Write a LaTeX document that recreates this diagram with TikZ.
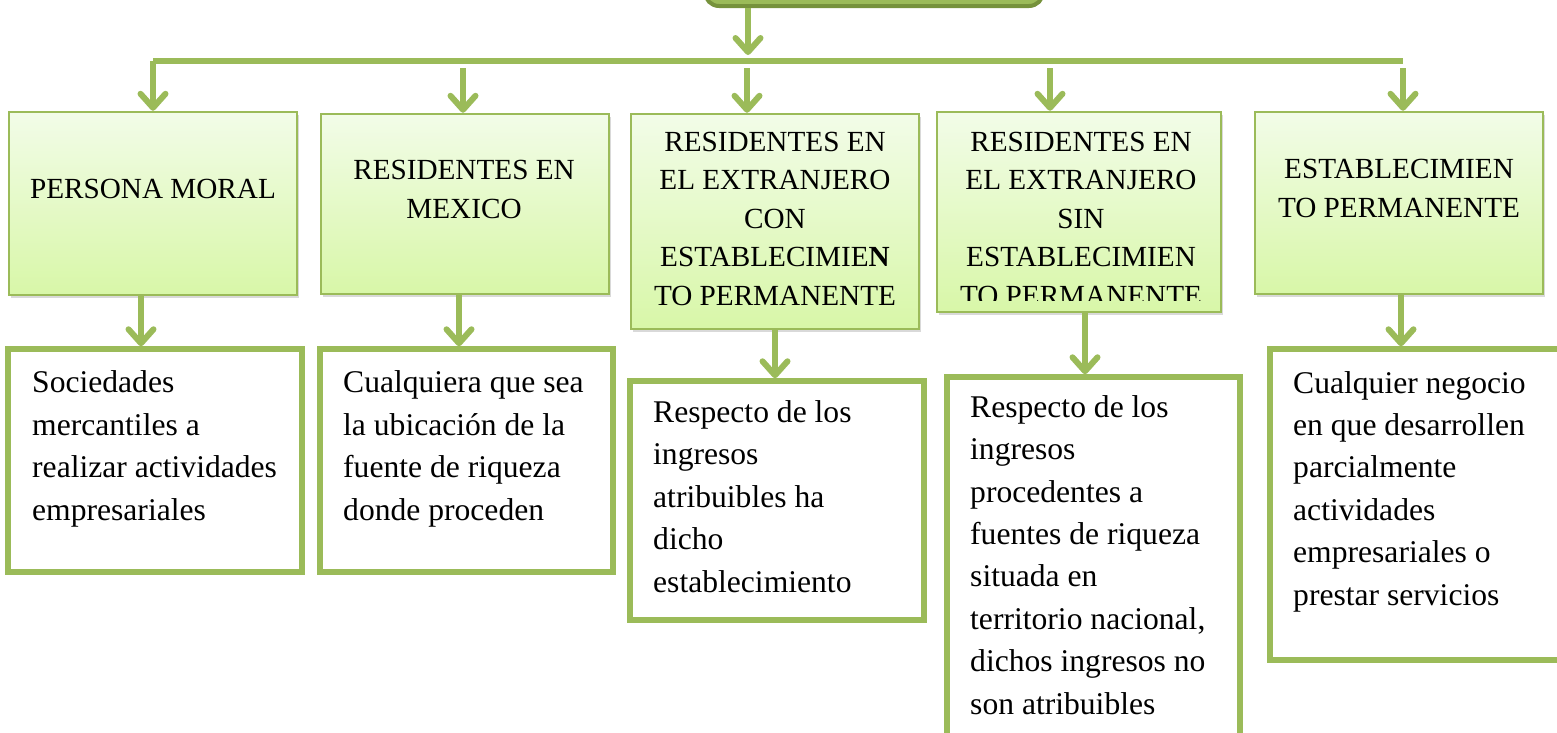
\documentclass[tikz,border=0pt]{standalone}
\usepackage{fontspec}
\setmainfont{Liberation Serif}
\usetikzlibrary{arrows.meta,shadows}

\definecolor{leafgreen}{HTML}{9BBB59}
\definecolor{darkleaf}{HTML}{76923C}
\definecolor{paletop}{HTML}{F2FCE8}
\definecolor{palebot}{HTML}{D8F7A8}

\begin{document}
\begin{tikzpicture}[x=1pt,y=-1pt,
  link/.style={draw=leafgreen,line width=6pt},
  arr/.style={link,-{Straight Barb[length=14pt,width=25pt,round]}},
  headbox/.style={draw=leafgreen,line width=2.5pt,top color=paletop,bottom color=palebot,
    drop shadow={opacity=.3,shadow xshift=2pt,shadow yshift=-3pt}},
  headtext/.style={font=\fontsize{29.2}{38.5}\selectfont,align=center,inner sep=0pt,anchor=base},
  bodybox/.style={draw=leafgreen,line width=5.5pt,fill=white,
    drop shadow={opacity=.2,shadow xshift=2pt,shadow yshift=-2pt}},
  bodytext/.style={font=\fontsize{31.6}{42.4}\selectfont,align=left,inner sep=0pt,anchor=base west}]
\useasboundingbox (0,0) rectangle (1557,732);
\clip (0,0) rectangle (1557,732);

% caja superior (solo se ve el borde inferior)
\node[draw=darkleaf,fill=leafgreen,line width=4pt,rounded corners=14pt,
  minimum width=338pt,minimum height=80pt] (tipo) at (874,-34) {};

% barra de reparto
\coordinate (hub) at (748,61);
\coordinate (barL) at (153,61);
\coordinate (barR) at (1403,61);
\draw[arr] (tipo.south -| hub) -- ([yshift=6pt]hub);
\draw[link] (barL) -- (barR);

% primer nivel (anchor base = ultima linea)
\node[headbox,minimum width=288pt,minimum height=183pt] (t1) at (153,203.5) {};
\node[headbox,minimum width=288pt,minimum height=180pt] (t2) at (465,204) {};
\node[headbox,minimum width=288pt,minimum height=215pt] (t3) at (775,221.5) {};
\node[headbox,minimum width=284pt,minimum height=200pt] (t4) at (1079,212) {};
\node[headbox,minimum width=288pt,minimum height=182pt] (t5) at (1399,203) {};

\node[headtext] (l1) at (153,198) {PERSONA MORAL};
\node[headtext] (l2) at (464,218) {RESIDENTES EN\\MEXICO};
\node[headtext] (l3) at (775,305) {RESIDENTES EN\\EL EXTRANJERO\\CON\\ESTABLECIMIE\textbf{N}\\TO PERMANENTE};
\begin{scope}
\clip (937,100) rectangle (1221,300);
\node[headtext] (l4) at (1081,305) {RESIDENTES EN\\EL EXTRANJERO\\SIN\\ESTABLECIMIEN\\TO PERMANENTE};
\end{scope}
\node[headtext] (l5) at (1399,217) {ESTABLECIMIEN\\TO PERMANENTE};

\draw[arr] (barL) -- (barL |- t1.north);
\foreach \n/\x in {2/463,3/747,4/1050,5/1403}{
  \coordinate (s\n) at (\x,68);
  \draw[arr] (s\n) -- (s\n |- t\n.north);
}

% segundo nivel
\node[bodybox,minimum width=294pt,minimum height=223pt] (b1) at (155,460.5) {};
\node[bodybox,minimum width=293pt,minimum height=223pt] (b2) at (466.5,460.5) {};
\node[bodybox,minimum width=294pt,minimum height=239pt] (b3) at (777,500.5) {};
\node[bodybox,minimum width=293pt,minimum height=383pt] (b4) at (1093.5,568.5) {};
\node[bodybox,minimum width=320pt,minimum height=311pt] (b5) at (1430,504.5) {};

\node[bodytext] (d1) at (32,520) {Sociedades\\mercantiles a\\realizar actividades\\empresariales};
\node[bodytext] (d2) at (343,520) {Cualquiera que sea\\la ubicación de la\\fuente de riqueza\\donde proceden};
\node[bodytext] (d3) at (653,592) {Respecto de los\\ingresos\\atribuibles ha\\dicho\\establecimiento};
\node[bodytext] (d4) at (970,714) {Respecto de los\\ingresos\\procedentes a\\fuentes de riqueza\\situada en\\territorio nacional,\\dichos ingresos no\\son atribuibles};
\node[bodytext] (d5) at (1293,605) {Cualquier negocio\\en que desarrollen\\parcialmente\\actividades\\empresariales o\\prestar servicios};

\draw[arr] ([xshift=-12pt]t1.south) -- ([xshift=-12pt]t1.south |- b1.north);
\draw[arr] ([xshift=-6pt]t2.south) -- ([xshift=-6pt]t2.south |- b2.north);
\draw[arr] (t3.south) -- (t3.south |- b3.north);
\draw[arr] ([xshift=6pt]t4.south) -- ([xshift=6pt]t4.south |- b4.north);
\draw[arr] ([xshift=2pt]t5.south) -- ([xshift=2pt]t5.south |- b5.north);
\end{tikzpicture}
\end{document}
